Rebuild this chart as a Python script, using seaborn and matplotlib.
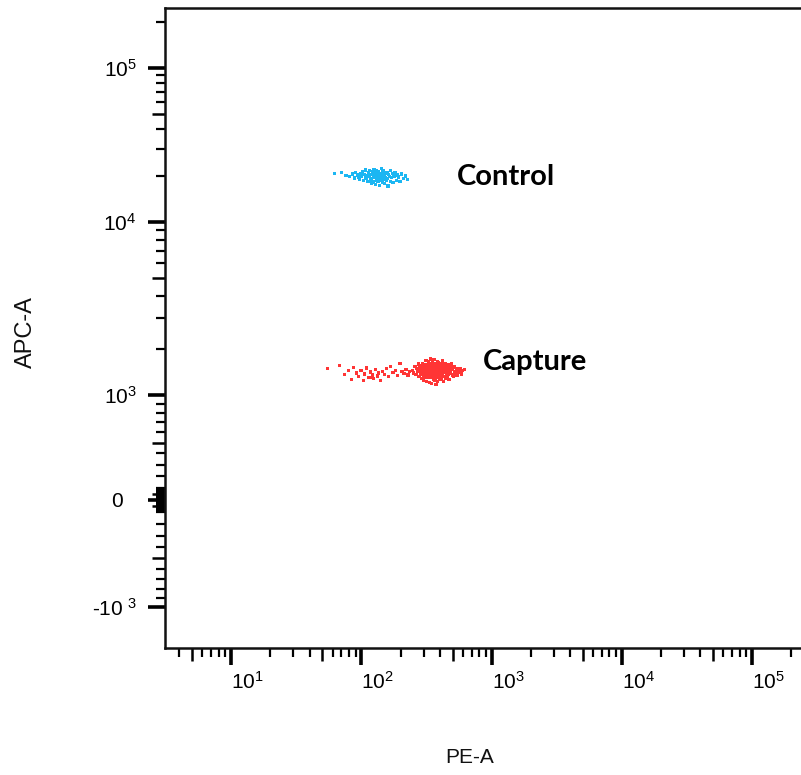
import numpy as np
import pandas as pd
import seaborn as sns
import matplotlib.pyplot as plt
from matplotlib import ticker, transforms

# Control population (PE-A, APC-A)
control_pe = [62, 70, 76, 81, 85, 88, 90, 93, 95, 97,
              99, 100, 102, 104, 105, 107, 108, 110, 111, 112,
              113, 115, 116, 117, 118, 119, 120, 121, 122, 123,
              124, 125, 126, 127, 128, 129, 130, 131, 132, 133,
              134, 135, 136, 137, 138, 139, 140, 141, 142, 143,
              144, 145, 146, 147, 148, 150, 151, 152, 154, 155,
              157, 158, 160, 162, 164, 166, 168, 170, 172, 175,
              178, 181, 185, 189, 193, 198, 204, 210, 218, 226]
control_apc = [20600, 20900, 20100, 19800, 20500, 19300, 21000, 20200, 19600, 18900,
               20700, 19900, 21300, 18600, 20300, 19500, 21800, 19100, 20000, 18400,
               20800, 19700, 21500, 18800, 20400, 17900, 19200, 21100, 20600, 18200,
               19800, 22000, 19400, 20900, 17600, 20100, 18700, 21600, 19000, 20500,
               18300, 19600, 21200, 20000, 17300, 19900, 20700, 18500, 22300, 19300,
               20200, 18000, 21400, 19700, 18900, 20400, 17700, 19500, 21000, 18600,
               20800, 19100, 17100, 20300, 19800, 18400, 21700, 19400, 20600, 18100,
               19900, 20900, 18700, 20200, 19600, 18300, 20500, 19200, 19900, 18800]

# Capture population: dense core
capture_pe = [245, 252, 258, 262, 266, 270, 273, 276, 279, 282,
              284, 287, 289, 291, 293, 295, 297, 299, 301, 303,
              305, 306, 308, 310, 311, 313, 314, 316, 317, 319,
              320, 322, 323, 325, 326, 328, 329, 331, 332, 334,
              335, 336, 338, 339, 341, 342, 343, 345, 346, 348,
              349, 350, 352, 353, 355, 356, 357, 359, 360, 362,
              363, 364, 366, 367, 369, 370, 371, 373, 374, 376,
              377, 379, 380, 382, 383, 385, 386, 388, 390, 391,
              393, 394, 396, 398, 399, 401, 403, 405, 406, 408,
              410, 412, 414, 416, 418, 420, 422, 424, 426, 429,
              431, 433, 436, 438, 441, 443, 446, 449, 452, 455,
              458, 461, 464, 468, 471, 475, 479, 483, 487, 492,
              497, 502, 508, 514, 520, 527, 534, 542, 551, 561,
              572, 585, 600, 618, 298, 315, 340, 358, 372, 389,
              344, 351, 361, 368, 378, 384, 395, 402, 327, 333]
capture_apc = [1480, 1420, 1560, 1390, 1510, 1450, 1620, 1350, 1530, 1470,
               1400, 1580, 1300, 1490, 1640, 1430, 1550, 1370, 1260, 1500,
               1610, 1440, 1330, 1570, 1480, 1700, 1390, 1520, 1250, 1460,
               1600, 1410, 1540, 1340, 1680, 1490, 1380, 1230, 1560, 1450,
               1500, 1320, 1630, 1420, 1740, 1470, 1360, 1590, 1210, 1530,
               1440, 1660, 1390, 1510, 1290, 1580, 1460, 1350, 1720, 1490,
               1550, 1400, 1270, 1620, 1480, 1370, 1530, 1190, 1450, 1600,
               1410, 1520, 1330, 1670, 1470, 1560, 1250, 1430, 1590, 1380,
               1500, 1640, 1360, 1460, 1540, 1280, 1420, 1570, 1480, 1310,
               1610, 1440, 1520, 1370, 1690, 1400, 1500, 1240, 1580, 1460,
               1350, 1550, 1430, 1620, 1300, 1490, 1570, 1410, 1520, 1360,
               1470, 1600, 1390, 1530, 1280, 1450, 1560, 1420, 1500, 1640,
               1380, 1490, 1340, 1550, 1460, 1420, 1510, 1370, 1480, 1440,
               1520, 1400, 1470, 1500, 1560, 1320, 1600, 1430, 1270, 1650,
               1410, 1530, 1470, 1360, 1580, 1440, 1510, 1390, 1490, 1550]

# Capture population: dim tail on the left
tail_pe = [55, 68, 74, 80, 84, 87, 92, 95, 99, 103,
           106, 110, 113, 117, 121, 124, 128, 132, 136, 140,
           145, 150, 156, 162, 168, 175, 182, 190, 198, 205,
           212, 220, 228, 233, 118]
tail_apc = [1510, 1580, 1390, 1470, 1290, 1540, 1420, 1350, 1480, 1260,
            1400, 1530, 1320, 1440, 1380, 1300, 1490, 1360, 1420, 1270,
            1450, 1390, 1510, 1340, 1560, 1430, 1480, 1370, 1640, 1450,
            1410, 1500, 1380, 1460, 1330]

x_major = [1e1, 1e2, 1e3, 1e4, 1e5]
x_labels = [r"$\mathregular{10^{1}}$", r"$\mathregular{10^{2}}$", r"$\mathregular{10^{3}}$",
            r"$\mathregular{10^{4}}$", r"$\mathregular{10^{5}}$"]
y_major = [-1e3, 0, 1e3, 1e4, 1e5]
y_labels = [r"-$\mathregular{10^{\ 3}}$", "0", r"$\mathregular{10^{3}}$",
            r"$\mathregular{10^{4}}$", r"$\mathregular{10^{5}}$"]

df = pd.concat([
    pd.DataFrame({"PE-A": control_pe, "APC-A": control_apc, "population": "Control"}),
    pd.DataFrame({"PE-A": tail_pe, "APC-A": tail_apc, "population": "Capture"}),
    pd.DataFrame({"PE-A": capture_pe, "APC-A": capture_apc, "population": "Capture"}),
], ignore_index=True)

sns.set_style("ticks")
plt.rcParams["font.family"] = ["Liberation Sans", "DejaVu Sans"]
plt.rcParams["mathtext.fontset"] = "custom"
plt.rcParams["mathtext.rm"] = "Liberation Sans"

# biexponential-like display for the APC axis
W = 1000.0
anchor_vals = np.array([-1e4, -1e3, 0, 1e3, 1e4, 1e5, 1e6])
anchor_pos = np.array([-780, -607, -500, -395, -222, -68, 86], dtype=float)
anchor_t = np.arcsinh(anchor_vals / W)


def biex_fwd(y):
    return np.interp(np.arcsinh(np.asarray(y, dtype=float) / W), anchor_t, anchor_pos)


def biex_inv(p):
    return W * np.sinh(np.interp(np.asarray(p, dtype=float), anchor_pos, anchor_t))


fig = plt.figure(figsize=(8.01, 7.75), dpi=100)
ax = fig.add_axes([165 / 801, 1 - 648 / 775, 639 / 801, 640 / 775])

sns.scatterplot(data=df, x="PE-A", y="APC-A", hue="population",
                palette={"Control": "#1CB6F2", "Capture": "#FF3535"},
                marker="s", s=5.5, linewidth=0, legend=False, ax=ax)

ax.set_xscale("log")
ax.set_yscale("function", functions=(biex_fwd, biex_inv))
ax.set_xlim(3.1, 2.5e5)
ax.set_ylim(-1870, 245000)

x_minor = [k * 10.0 ** d for d in range(0, 6) for k in range(2, 10)]
ax.xaxis.set_major_locator(ticker.FixedLocator(x_major))
ax.xaxis.set_major_formatter(ticker.FixedFormatter(x_labels))
ax.xaxis.set_minor_locator(ticker.FixedLocator(x_minor))
ax.xaxis.set_minor_formatter(ticker.NullFormatter())

y_minor = [k * 10.0 ** d for d in (1, 2, 3, 4, 5) for k in range(1 if d in (1, 2) else 2, 10)]
y_minor = [-v for v in y_minor if v < 1000] + y_minor
ax.yaxis.set_major_locator(ticker.FixedLocator(y_major))
ax.yaxis.set_major_formatter(ticker.FixedFormatter(y_labels))
ax.yaxis.set_minor_locator(ticker.FixedLocator(y_minor))
ax.yaxis.set_minor_formatter(ticker.NullFormatter())

ax.tick_params(which="major", length=12.5, width=2.6, color="black",
               labelsize=15, labelcolor="black", left=True, bottom=True)
ax.tick_params(which="minor", length=6.5, width=1.6, color="black", left=True, bottom=True)
ax.tick_params(axis="x", which="major", pad=4)
ax.tick_params(axis="y", which="major", pad=8)

# medium ticks at 5 x 10^n
for axis in (ax.xaxis, ax.yaxis):
    locs = axis.get_minor_locator()()
    for tick, loc in zip(axis.get_minor_ticks(len(locs)), locs):
        m = abs(loc)
        if m > 0 and round(m / 10 ** np.floor(np.log10(m))) == 5:
            tick.tick1line.set_markersize(9.5)
            tick.tick1line.set_markeredgewidth(1.8)

for lab in ax.get_xticklabels():
    lab.set_ha("left")
for lab in ax.get_yticklabels():
    if lab.get_text() == "0":
        lab.set_transform(lab.get_transform() +
                          transforms.ScaledTranslation(-10 / 72, 0, fig.dpi_scale_trans))

for side in ("left", "bottom", "top"):
    ax.spines[side].set_linewidth(1.8)
    ax.spines[side].set_color("#111111")
ax.spines["right"].set_visible(False)

ax.set_xlabel("PE-A", fontsize=15, color="#111111")
ax.set_ylabel("APC-A", fontsize=17, color="#111111")
ax.xaxis.set_label_coords((470 - 165) / 639, -(748 - 648) / 640)
ax.yaxis.set_label_coords((37 - 165) / 639, (648 - 332) / 640)

ax.text(540, 17400, "Control", fontsize=21, fontweight="bold", family=["Lato", "DejaVu Sans"],
        color="black", ha="left", va="baseline")
ax.text(850, 1490, "Capture", fontsize=21, fontweight="bold", family=["Lato", "DejaVu Sans"],
        color="black", ha="left", va="baseline")

fig.savefig("out.png", dpi=100)
